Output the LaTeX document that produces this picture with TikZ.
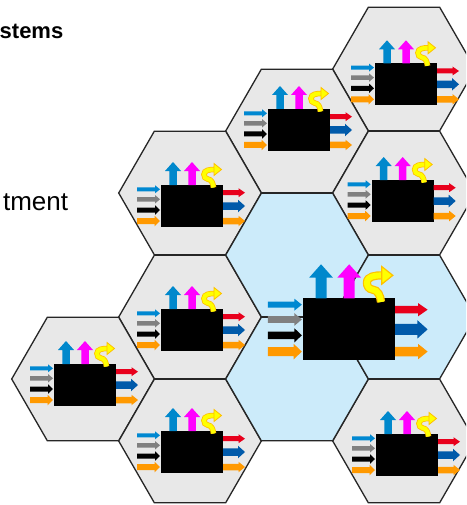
\documentclass[tikz,border=0pt]{standalone}
\usepackage{fontspec}
\setmainfont{Liberation Sans}
\definecolor{hexgray}{RGB}{232,232,232}
\definecolor{hexblue}{RGB}{204,235,250}
\definecolor{hexline}{RGB}{38,38,38}
\definecolor{inblue}{RGB}{0,136,209}
\definecolor{ingray}{RGB}{128,128,128}
\definecolor{inorange}{RGB}{255,153,0}
\definecolor{upblue}{RGB}{0,136,204}
\definecolor{upmag}{RGB}{255,0,255}
\definecolor{outred}{RGB}{232,0,28}
\definecolor{outblue}{RGB}{0,90,170}
\definecolor{ylw}{RGB}{255,255,0}
\definecolor{ylwedge}{RGB}{255,192,0}
\tikzset{
  hexcell/.style={draw=hexline,line width=1.3pt,line join=miter},
  grayhex/.style={hexcell,fill=hexgray},
  bluehex/.style={hexcell,fill=hexblue},
  slidetext/.style={inner sep=0pt,anchor=base east},
}
\newcommand\hexat[3]{%
  \draw[#3] (#1-71.3,#2) -- (#1-35.65,#2-61.8) -- (#1+35.65,#2-61.8) -- (#1+71.3,#2)
    -- (#1+35.65,#2+61.8) -- (#1-35.65,#2+61.8) -- cycle;}
\newcommand\rarr[7]{%
  \fill[#1] (#2,#3-#5/2) -- (#4-#7,#3-#5/2) -- (#4-#7,#3-#6/2) -- (#4,#3)
    -- (#4-#7,#3+#6/2) -- (#4-#7,#3+#5/2) -- (#2,#3+#5/2) -- cycle;}
\newcommand\uarr[7]{%
  \fill[#1] (#2-#5/2,#3) -- (#2-#5/2,#4+#7) -- (#2-#6/2,#4+#7) -- (#2,#4)
    -- (#2+#6/2,#4+#7) -- (#2+#5/2,#4+#7) -- (#2+#5/2,#3) -- cycle;}
\newcommand\procicon[3]{%
  \begin{scope}[shift={(#1,#2)},scale=#3]
    \fill[black] (0,0) rectangle (62,42);
    \rarr{inblue}{-24}{4.3}{-1}{4}{8}{5}
    \rarr{ingray}{-24}{14.3}{-1}{4.5}{8.5}{5}
    \rarr{black}{-24}{25}{-1}{5}{9.5}{5}
    \rarr{inorange}{-24}{36}{-1}{6}{10.5}{5.5}
    \uarr{upblue}{12}{0}{-23}{7.5}{16}{9}
    \uarr{upmag}{31}{0}{-23}{7.5}{16}{9}
    \rarr{outred}{62}{7.7}{84}{5}{9}{6.5}
    \rarr{outblue}{62}{21}{84}{7.5}{12.5}{7}
    \rarr{inorange}{62}{36}{84}{6.5}{10.5}{6.5}
    \draw[ylwedge,line width=#3*5.6pt] (52.5,2.5) to[out=95,in=-5] (46.5,-6)
      to[out=175,in=-90] (43,-10.5) to[out=90,in=180] (53.5,-15.5);
    \draw[ylw,line width=#3*4pt] (52.5,2.5) to[out=95,in=-5] (46.5,-6)
      to[out=175,in=-90] (43,-10.5) to[out=90,in=180] (54,-15.5);
    \filldraw[fill=ylw,draw=ylwedge,line width=#3*0.8pt,line join=miter]
      (53,-21.5) -- (60.5,-15.5) -- (53,-9.5) -- cycle;
  \end{scope}}
\begin{document}
\begin{tikzpicture}[x=1pt,y=-1pt]
  \clip (0,0) rectangle (466,505);
  \fill[white] (0,0) rectangle (466,505);
  \node[slidetext,font=\bfseries\fontsize{22}{26}\selectfont] (title) at (63.5,38.3) {stems};
  \node[slidetext,font=\fontsize{26}{30}\selectfont] (label) at (68.3,210) {tment};
  \hexat{404}{69}{grayhex}
  \hexat{297}{131}{grayhex}
  \hexat{404}{193}{grayhex}
  \hexat{190}{193}{grayhex}
  \hexat{190}{317}{grayhex}
  \hexat{83}{379}{grayhex}
  \hexat{190}{441}{grayhex}
  \hexat{404}{441}{grayhex}
  \hexat{297}{255}{bluehex}
  \hexat{297}{379}{bluehex}
  \hexat{404}{317}{bluehex}
  \procicon{375}{63.3}{1}
  \procicon{268}{109}{1}
  \procicon{371.7}{180}{1}
  \procicon{161}{185}{1}
  \procicon{161}{309}{1}
  \procicon{161}{431}{1}
  \procicon{54}{364}{1}
  \procicon{376}{434}{1}
  \procicon{303.3}{298.3}{1.48}
\end{tikzpicture}
\end{document}
